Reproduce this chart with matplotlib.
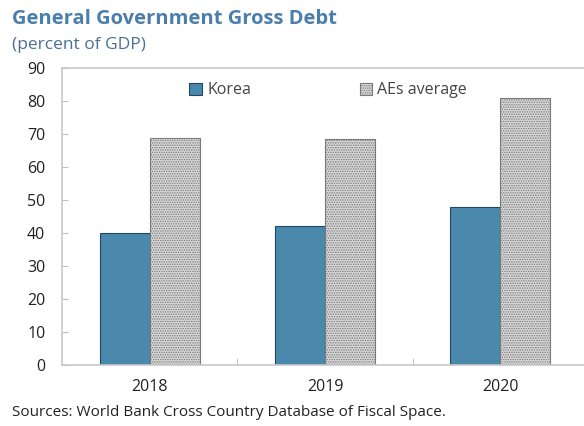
import numpy as np
import matplotlib.pyplot as plt

plt.rcParams['font.family'] = ['Open Sans', 'DejaVu Sans']

years = ['2018', '2019', '2020']
korea = [40.0, 42.1, 47.9]
aes_avg = [68.8, 68.5, 80.9]

fig = plt.figure(figsize=(5.84, 4.26), dpi=100)
ax = fig.add_axes([62 / 584, 61 / 426, 526 / 584, 297 / 426])

x = np.arange(len(years))
w = 0.285
ax.bar(x - w / 2, korea, w, color='#4a89ab', edgecolor='#24465e', linewidth=0.8, label='Korea')
plt.rcParams['hatch.linewidth'] = 0.7
plt.rcParams['hatch.color'] = '#7a7a7a'
ax.bar(x + w / 2, aes_avg, w, color='#d8d8d8', edgecolor='#7a7a7a', hatch='.......',
       linewidth=0.8, label='AEs average')

ax.set_xlim(-0.5, 2.5)
ax.set_ylim(0, 90)
ax.set_yticks(range(0, 91, 10))
ax.set_xticks(x)
ax.set_xticklabels(years)
ax.set_xticks([0.5, 1.5], minor=True)
ax.tick_params(axis='x', which='major', length=0, pad=10, labelsize=11.5, labelcolor='#222222')
ax.tick_params(axis='x', which='minor', direction='in', length=5, color='#bfbfbf')
ax.tick_params(axis='y', direction='in', length=4, color='#bfbfbf', labelsize=11.5,
               labelcolor='#222222', pad=12)
for s in ['left', 'top', 'bottom']:
    ax.spines[s].set_color('#c8c8c8')
    ax.spines[s].set_linewidth(1.2)
ax.spines['right'].set_visible(False)

ax.legend(loc='upper left', bbox_to_anchor=(0.215, 1.0), ncol=2, frameon=False,
          fontsize=11.5, handlelength=0.8, handleheight=0.8, handletextpad=0.3,
          columnspacing=6.8, labelcolor='#444444')

fig.text(12 / 584, 1 - 19 / 426, 'General Government Gross Debt', fontsize=14.5,
         fontweight='bold', color='#4a7ead', va='center')
fig.text(12 / 584, 1 - 45 / 426, '(percent of GDP)', fontsize=12.5, color='#4a6f96', va='center')
fig.text(12 / 584, 1 - 413 / 426, 'Sources: World Bank Cross Country Database of Fiscal Space.',
         fontsize=11, color='#222222', va='center')

fig.savefig('out.png', dpi=100)
